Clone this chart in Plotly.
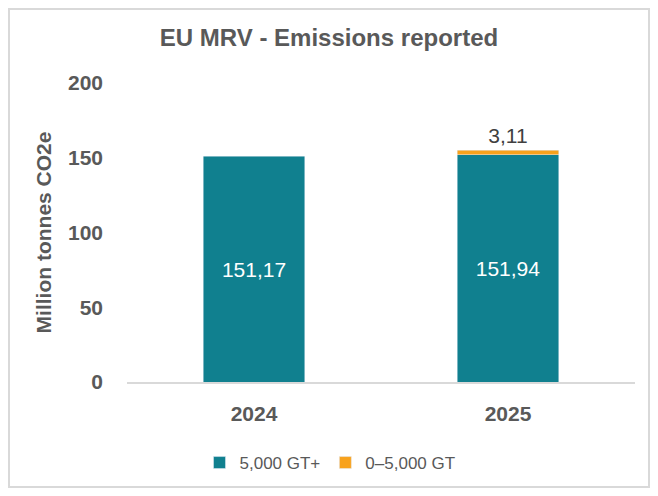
import plotly.graph_objects as go

years = ["2024", "2025"]
large_ships = [151.17, 151.94]   # 5,000 GT+
small_ships = [None, 3.11]       # 0-5,000 GT
y_ticks = [0, 50, 100, 150, 200]

TEAL = "#10808F"
ORANGE = "#F8A21C"
GREY = "#595959"
FONT = "Liberation Sans"

# the page puts the figure 8px in from the top-left corner
W, H = 642, 480
L, R, T, B = 119, 15, 75, 106
PW, PH = W - L - R, H - T - B

fig = go.Figure()
fig.add_trace(
    go.Bar(
        x=years,
        y=large_ships,
        name="5,000 GT+",
        marker_color=TEAL,
        texttemplate="%{y:.2f}",
        textposition="inside",
        insidetextanchor="middle",
        textangle=0,
        textfont=dict(color="white", size=21, family=FONT),
    )
)
fig.add_trace(
    go.Bar(
        x=years,
        y=small_ships,
        name="0\u20135,000 GT",
        marker_color=ORANGE,
        texttemplate="%{y:.2f}",
        textposition="outside",
        textangle=0,
        textfont=dict(color="#404040", size=21, family=FONT),
        cliponaxis=False,
    )
)

fig.update_layout(
    barmode="stack",
    bargap=0.6,
    separators=",.",
    width=W,
    height=H,
    autosize=False,
    margin=dict(l=L, r=R, t=T, b=B, autoexpand=False),
    paper_bgcolor="white",
    plot_bgcolor="white",
    font=dict(family=FONT, color=GREY),
    uniformtext=dict(minsize=19, mode="show"),
    title=dict(
        text="EU MRV - Emissions reported",
        x=0.5,
        xref="container",
        xanchor="center",
        y=1 - 30 / H,
        yanchor="middle",
        font=dict(size=24, color=GREY, family=FONT, weight="bold"),
    ),
    legend=dict(
        orientation="h",
        xanchor="center",
        x=(322 - L) / PW,
        yanchor="middle",
        y=-(455 - (H - B)) / PH,
        font=dict(size=17, color=GREY, family=FONT),
        traceorder="normal",
    ),
    showlegend=True,
)
fig.update_yaxes(
    range=[0, 200],
    tickvals=y_ticks,
    ticklabelstandoff=23,
    showgrid=False,
    zeroline=False,
    tickfont=dict(size=21, color=GREY, family=FONT, weight="bold"),
    title=dict(
        text="Million tonnes CO2e",
        font=dict(size=21, color=GREY, family=FONT, weight="bold"),
        standoff=10,
    ),
)
fig.update_xaxes(
    showline=True,
    linecolor="#D9D9D9",
    linewidth=2,
    tickfont=dict(size=21, color=GREY, family=FONT, weight="bold"),
    ticklabelstandoff=12,
)

# outer chart border
fig.add_shape(
    type="rect",
    xref="paper",
    yref="paper",
    x0=(1 - L) / PW,
    x1=(W - 1 - L) / PW,
    y0=-(B - 1) / PH,
    y1=1 + (T - 1) / PH,
    line=dict(color="#D9D9D9", width=2),
    layer="below",
)

fig.write_html("out.html")
